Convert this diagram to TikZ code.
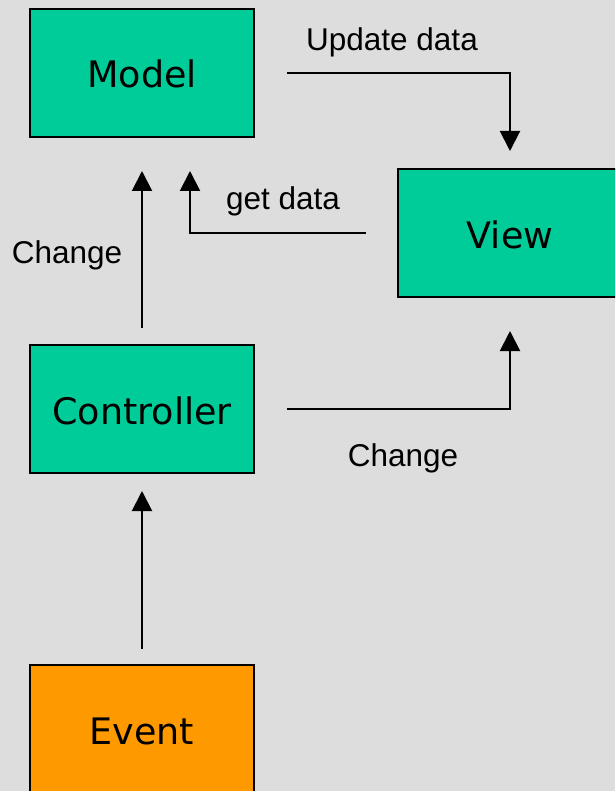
\documentclass[tikz,border=0pt]{standalone}
\usepackage{fontspec}
\setmainfont{Liberation Sans}
\newfontfamily\boxfont{DejaVu Sans}
\usetikzlibrary{arrows.meta}

\definecolor{pagegray}{HTML}{DDDDDD}
\definecolor{mvcgreen}{HTML}{00CC99}
\definecolor{eventorange}{HTML}{FF9900}

\tikzset{
  block/.style={draw=black, line width=2pt, minimum width=224pt, minimum height=128pt,
    inner sep=0pt, text height=30pt, text depth=0pt,
    font=\boxfont\fontsize{36.5}{42}\selectfont},
  flow/.style={line width=2pt, -{Triangle[width=20pt,length=20pt]}},
  lbl/.style={anchor=base, inner sep=0pt, font=\fontsize{31.5}{36}\selectfont}
}

\begin{document}
\begin{tikzpicture}[x=1pt, y=-1pt]
  \useasboundingbox (0,0) rectangle (615,791);
  \clip (0,0) rectangle (615,791);
  \fill[pagegray] (0,0) rectangle (615,791);

  % the four components
  \node[block, fill=mvcgreen]    (model)      at (142,73)  {Model};
  \node[block, fill=mvcgreen]    (view)       at (510,233) {View};
  \node[block, fill=mvcgreen]    (controller) at (142,409) {Controller};
  \node[block, fill=eventorange] (event)      at (142,729) {Event};

  % connectors between the components
  \draw[flow, shorten <=32pt, shorten >=17pt] (model.east) -| (view.north);
  \draw[flow, shorten <=31pt, shorten >=33pt] (view.west) -| ([xshift=48pt]model.south);
  \draw[flow, shorten <=16pt, shorten >=33pt] (controller.north) -- (model.south);
  \draw[flow, shorten <=32pt, shorten >=33pt] (controller.east) -| (view.south);
  \draw[flow, shorten <=15pt, shorten >=17pt] (event.north) -- (controller.south);

  % connector labels
  \node[lbl] (lupdate) at (392,51)  {Update data};
  \node[lbl] (lget)    at (283,210) {get data};
  \node[lbl] (lchgm)   at (67,264)  {Change};
  \node[lbl] (lchgv)   at (403,466) {Change};
\end{tikzpicture}
\end{document}
